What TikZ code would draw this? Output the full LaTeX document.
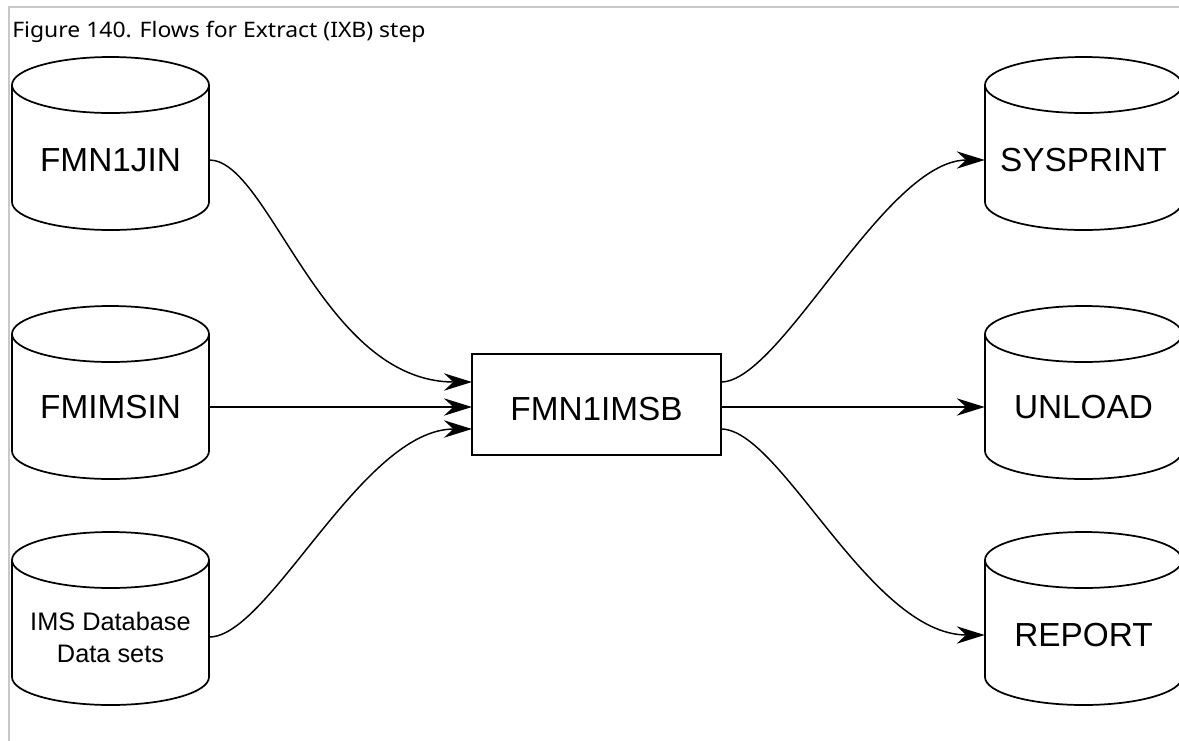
\documentclass[tikz,border=0pt]{standalone}
\usepackage{fontspec}
\setmainfont{Liberation Sans}
\newfontfamily\titlefont{Noto Sans}
\usetikzlibrary{arrows.meta}
\definecolor{framegray}{RGB}{200,200,200}
\tikzset{
  cylline/.style={draw=black, line width=1.3pt, fill=white},
  cyllabel/.style={inner sep=0pt, minimum width=147.75pt, align=center, font=\fontsize{25}{30}\selectfont},
  smalllabel/.style={inner sep=0pt, minimum width=147.75pt, align=center, font=\fontsize{19}{24}\selectfont},
  flow/.style={draw=black, line width=1.1pt, -{Stealth[length=21pt,width=13pt,inset=7pt]}},
  stepbox/.style={draw=black, line width=1.3pt, minimum width=186.75pt, minimum height=75.75pt, inner sep=0pt}
}
% #1 top y, #2 centre x
\newcommand\dbshape[2]{%
  \draw[cylline] (#2-98.5,#1+28) -- (#2-98.5,#1+145)
     .. controls (#2-98.5,#1+160.5) and (#2-54.4,#1+173) .. (#2,#1+173)
     .. controls (#2+54.4,#1+173) and (#2+98.5,#1+160.5) .. (#2+98.5,#1+145)
     -- (#2+98.5,#1+28);
  \draw[cylline] (#2-98.5,#1+28)
     .. controls (#2-98.5,#1+12.5) and (#2-54.4,#1) .. (#2,#1)
     .. controls (#2+54.4,#1) and (#2+98.5,#1+12.5) .. (#2+98.5,#1+28)
     .. controls (#2+98.5,#1+43.5) and (#2+54.4,#1+56) .. (#2,#1+56)
     .. controls (#2-54.4,#1+56) and (#2-98.5,#1+43.5) .. (#2-98.5,#1+28) -- cycle;
}
\begin{document}
\begin{tikzpicture}[x=0.75pt,y=-0.75pt]
\useasboundingbox (0,0) rectangle (1179,740);
\clip (0,0) rectangle (1179,740);
\fill[white] (0,0) rectangle (1179,740);
% frame
\draw[framegray, line width=1.6pt] (9,750) -- (9,7) -- (1190,7);
% title
\node[anchor=base west, inner sep=0pt, font=\titlefont\fontsize{16}{19}\selectfont] (title) at (12,37) {\scalebox{1.075}[1]{Figure 140. Flows for Extract (IXB) step}};
% cylinders
\dbshape{57}{110.5}
\dbshape{306}{110.5}
\dbshape{532}{110.5}
\dbshape{57}{1083.5}
\dbshape{306}{1083.5}
\dbshape{532}{1083.5}
\node[cyllabel] (jin) at (110.5,160) {FMN1JIN};
\node[cyllabel] (imsin) at (110.5,407) {FMIMSIN};
\node[smalllabel] (ims) at (110.5,637) {IMS Database\\Data sets};
\node[cyllabel] (sysprint) at (1083.5,160) {SYSPRINT};
\node[cyllabel] (unload) at (1083.5,407) {UNLOAD};
\node[cyllabel] (report) at (1083.5,635) {REPORT};
% process box
\node[stepbox] (box) at (596.5,404.5) {};
\node[inner sep=0pt, font=\fontsize{25}{30}\selectfont] (boxlabel) at (596.5,409) {FMN1IMSB};
\coordinate (inA) at (472,382);
\coordinate (inB) at (472,407);
\coordinate (inC) at (472,429);
\coordinate (outA) at (721,382);
\coordinate (outB) at (721,407);
\coordinate (outC) at (721,429);
% connectors
\draw[flow] (jin.east) .. controls +(60,0) and +(-150,0) .. (inA);
\draw[flow] (imsin.east) -- (inB);
\draw[flow] (ims.east) .. controls +(60,0) and +(-110,0) .. (inC);
\draw[flow] (outA) .. controls +(60,0) and +(-100,0) .. (sysprint.west);
\draw[flow] (outB) -- (unload.west);
\draw[flow] (outC) .. controls +(60,0) and +(-115,0) .. (report.west);
\end{tikzpicture}
\end{document}
